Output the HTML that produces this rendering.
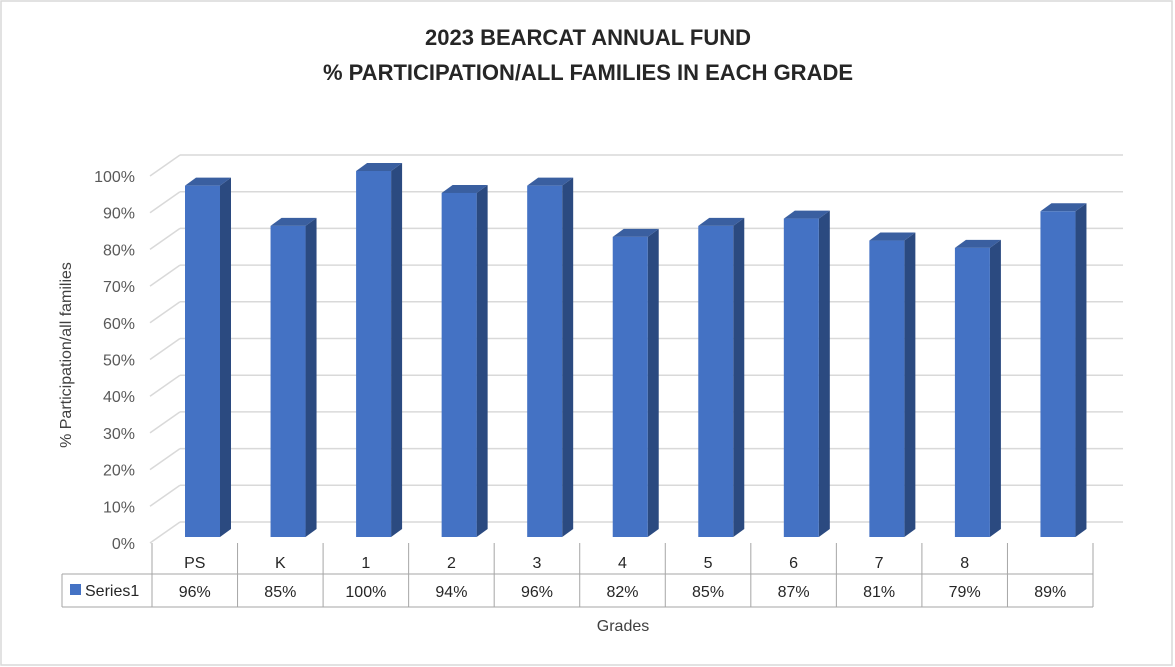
<!DOCTYPE html>
<html><head><meta charset="utf-8"><style>
body{margin:0;background:#fff}
svg{display:block;font-family:"Liberation Sans",sans-serif}
</style></head><body>
<svg id="c" width="1175" height="667">
<rect x="1" y="1" width="1171" height="664" fill="#fff" stroke="#d9d9d9" stroke-width="1.5"/>
<text x="588" y="45" text-anchor="middle" font-size="22" font-weight="bold" fill="#262626">2023 BEARCAT ANNUAL FUND</text>
<text x="588" y="80" text-anchor="middle" font-size="22" font-weight="bold" fill="#262626">% PARTICIPATION/ALL FAMILIES IN EACH GRADE</text>
<text transform="translate(71,355) rotate(-90)" text-anchor="middle" font-size="16" fill="#404040">% Participation/all families</text>
<text x="623" y="631" text-anchor="middle" font-size="16" fill="#404040">Grades</text>
<g id="grid"></g><g id="bars"></g><g id="table"></g>
</svg>
<script>
const categories=["PS","K","1","2","3","4","5","6","7","8",""];
const values=[96,85,100,94,96,82,85,87,81,79,89];
const yTicks=[0,10,20,30,40,50,60,70,80,90,100];
const NS="http://www.w3.org/2000/svg";
const svg=document.getElementById('c');
function mk(t,a,p){const e=document.createElementNS(NS,t);for(const k in a)e.setAttribute(k,a[k]);p.appendChild(e);return e;}
const left=152,right=1093,colW=(right-left)/categories.length;
const dx=30,dy=-21;
const backY=v=>522-v*3.67;
const barY=v=>537-v*3.66;
const grid=document.getElementById('grid');
yTicks.forEach(t=>{
  const y=backY(t);
  const l=mk('line',{x1:180,y1:y,x2:1123,y2:y,stroke:'#d9d9d9','stroke-width':1.5},grid);
  
  
  const d=mk('line',{x1:180-dx,y1:y-dy,x2:180,y2:y,stroke:'#d9d9d9','stroke-width':1.5},grid);
  
  
  const tx=mk('text',{x:135,y:y-dy+6,'text-anchor':'end','font-size':16,fill:'#595959'},grid);
  tx.textContent=t+'%';
  
  
});
const bars=document.getElementById('bars');
values.forEach((v,i)=>{
  const x=left+i*colW+33,w=35,sd=11,td=8,y0=537,y=barY(v);
  const g=mk('g',{},bars);
  
  
  mk('polygon',{points:`${x+w},${y} ${x+w+sd},${y-td} ${x+w+sd},${y0-td} ${x+w},${y0}`,fill:'#2b4a80'},g);
  mk('polygon',{points:`${x},${y} ${x+sd},${y-td} ${x+w+sd},${y-td} ${x+w},${y}`,fill:'#3a5fa0'},g);
  mk('rect',{x:x,y:y,width:w,height:y0-y,fill:'#4472c4'},g);
});
const tb=document.getElementById('table');
const lc='#a6a6a6';
mk('line',{x1:62,y1:574,x2:right,y2:574,stroke:lc},tb);
mk('line',{x1:62,y1:607,x2:right,y2:607,stroke:lc},tb);
mk('line',{x1:62,y1:574,x2:62,y2:607,stroke:lc},tb);
for(let i=0;i<=categories.length;i++){const x=left+i*colW;mk('line',{x1:x,y1:543,x2:x,y2:607,stroke:lc},tb);}
const lg=mk('rect',{x:70,y:584,width:11,height:11,fill:'#4472c4'},tb);


const lt=mk('text',{x:85,y:596,'font-size':16,fill:'#262626'},tb);
lt.textContent='Series1';


categories.forEach((c,i)=>{
  const cx=left+(i+0.5)*colW;
  const t=mk('text',{x:cx,y:568,'text-anchor':'middle','font-size':16,fill:'#262626'},tb);
  t.textContent=c;
  
  
  const v=mk('text',{x:cx,y:597,'text-anchor':'middle','font-size':16,fill:'#262626'},tb);
  v.textContent=values[i]+'%';
  
  
});
</script>
</body></html>
